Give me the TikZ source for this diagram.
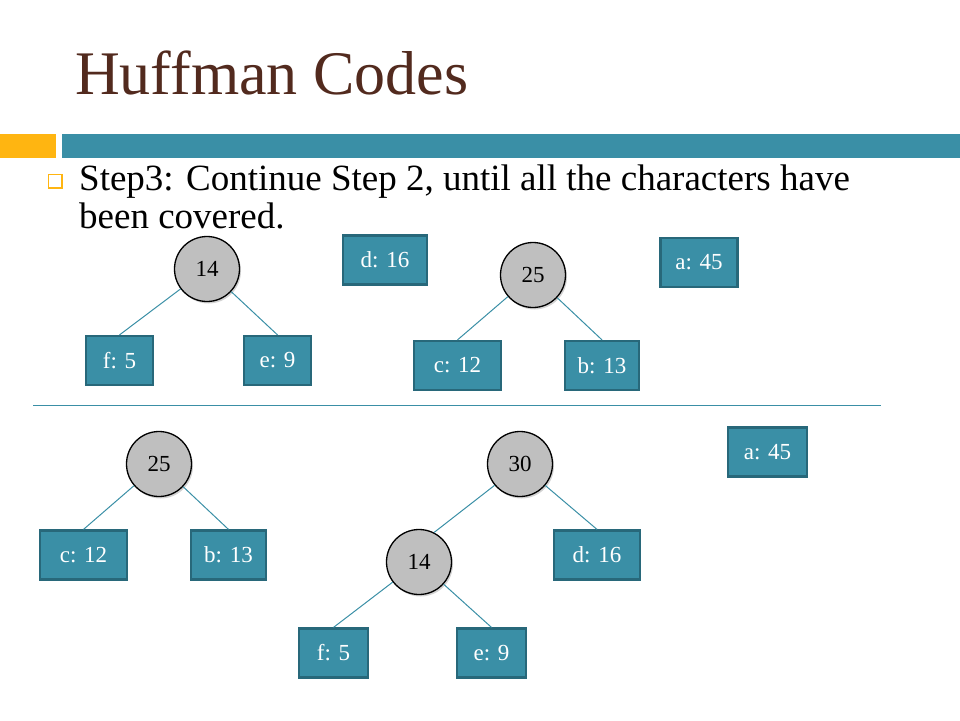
\documentclass[tikz,border=0pt]{standalone}
\usepackage{fontspec}
\setmainfont{Liberation Serif}
\usepackage{xcolor}
\usetikzlibrary{shadows}

\definecolor{slideteal}{HTML}{3A8FA6}
\definecolor{tealedge}{HTML}{28687A}
\definecolor{slideorange}{HTML}{FFB511}
\definecolor{titlebrown}{HTML}{522A1E}
\definecolor{nodegray}{HTML}{BFBFBF}

\begin{document}
\begin{tikzpicture}[
    x=1pt, y=-1pt,
    leaf/.style = {
      shape=rectangle,
      draw=tealedge,
      line width=2.2pt,
      fill=slideteal,
      text=white,
      font=\fontsize{23}{25}\selectfont,
      minimum height=49,
      inner sep=0pt
    },
    inner/.style = {
      shape=circle,
      draw=black,
      line width=1.3pt,
      fill=nodegray,
      font=\fontsize{23}{25}\selectfont,
      minimum size=65,
      inner sep=0pt,
      drop shadow={opacity=0.35, shadow xshift=1.5pt, shadow yshift=-2pt}
    },
    link/.style = {
      draw=slideteal,
      line width=1pt
    }
  ]
    \useasboundingbox (0,0) rectangle (960,720);

    % Title and header bars
    \node[anchor=base west, inner sep=0pt, text=titlebrown,
      font=\fontsize{62}{64}\selectfont] (title) at (75,94) {Huffman Codes};
    \fill[slideorange] (0,134) rectangle (56,158);
    \fill[slideteal] (62,134) rectangle (960,158);

    % Bullet text
    \draw[slideorange, line width=1.2pt] (48.5,174.5) rectangle (62,188);
    \node[anchor=base west, inner sep=0pt, font=\fontsize{37}{38}\selectfont]
      (line1) at (79,190) {Step3: Continue Step 2, until all the characters have};
    \node[anchor=base west, inner sep=0pt, font=\fontsize{37}{38}\selectfont]
      (line2) at (79,228) {been covered.};

    % Upper forest
    \node[inner] (n14) at (207,269) {14};
    \node[leaf, minimum width=67] (f1) at (119.5,360.5) {f: 5};
    \node[leaf, minimum width=67] (e1) at (277.5,360.5) {e: 9};
    \node[leaf, minimum width=84] (d1) at (385,260) {d: 16};
    \node[inner] (n25) at (533,275) {25};
    \node[leaf, minimum width=87] (c1) at (457.5,365.5) {c: 12};
    \node[leaf, minimum width=74] (b1) at (602,365.5) {b: 13};
    \node[leaf, minimum width=77] (a1) at (699,262.5) {a: 45};

    \draw[link] (n14) -- (f1.north);
    \draw[link] (n14) -- (e1.north);
    \draw[link] (n25) -- (c1.north);
    \draw[link] (n25) -- (b1.north);

    % Separator
    \coordinate (sepL) at (33,405);
    \coordinate (sepR) at (881,405);
    \draw[slideteal, line width=1pt] (sepL) -- (sepR);

    % Lower forest
    \node[inner] (m25) at (159,464) {25};
    \node[leaf, minimum width=87] (c2) at (83.5,555) {c: 12};
    \node[leaf, minimum width=75] (b2) at (228.5,555) {b: 13};
    \node[inner] (m30) at (520,464) {30};
    \node[inner] (m14) at (419,562) {14};
    \node[leaf, minimum width=86] (d2) at (597,555) {d: 16};
    \node[leaf, minimum width=69] (f2) at (333.5,653) {f: 5};
    \node[leaf, minimum width=69] (e2) at (491.5,653) {e: 9};
    \node[leaf, minimum width=79] (a2) at (767.5,452) {a: 45};

    \draw[link] (m25) -- (c2.north);
    \draw[link] (m25) -- (b2.north);
    \draw[link] (m30.220) -- (m14.63);
    \draw[link] (m30) -- (d2.north);
    \draw[link] (m14) -- (f2.north);
    \draw[link] (m14) -- (e2.north);

  \end{tikzpicture}
\end{document}
